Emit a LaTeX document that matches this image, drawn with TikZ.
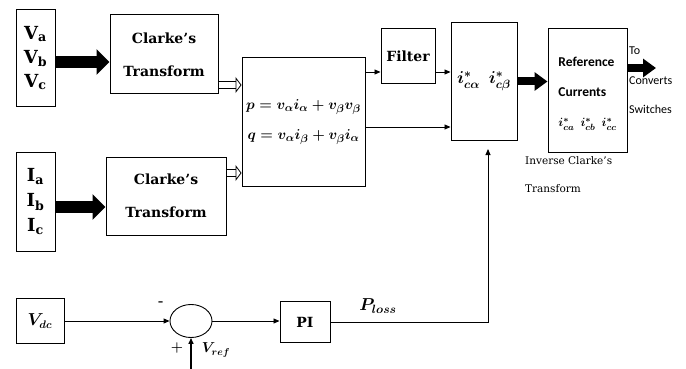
\documentclass[tikz,border=0pt]{standalone}
\usepackage{amsmath,bm}
\usepackage{fontspec}
\newfontfamily\blkfont{DejaVu Serif}
\newfontfamily\calfont{Carlito}
\usetikzlibrary{arrows.meta,positioning,shapes.geometric}

\begin{document}
\begin{tikzpicture}[x=1pt,y=-1pt,
    blk/.style={draw,line width=1pt,inner sep=0pt,align=center},
    clk/.style={font=\blkfont\bfseries\fontsize{14}{33}\selectfont},
    arr/.style={line width=0.9pt,-{Triangle[length=6pt,width=5pt]}},
    fat/.style={line width=12pt,-{Triangle[length=13pt,width=25pt]}},
    fatsm/.style={line width=8pt,-{Triangle[length=13pt,width=18pt]}},
    hollow/.style={double,double distance=6pt,line width=0.8pt,-{Triangle[open,length=6pt,width=16pt]}}]
        \useasboundingbox (0,0) rectangle (686,369);
        % inputs
        \node[blk,minimum width=39pt,minimum height=97pt,font=\blkfont\bfseries\fontsize{18}{24}\selectfont]
          (vin) at (35.5,58.5) {\raisebox{19pt}{\begin{tabular}{@{}c@{}}V\textsubscript{a}\\V\textsubscript{b}\\V\textsubscript{c}\end{tabular}}};
        \node[blk,minimum width=39pt,minimum height=99pt,font=\blkfont\bfseries\fontsize{18}{25}\selectfont]
          (iin) at (35.5,201.5) {\raisebox{16pt}{\begin{tabular}{@{}c@{}}I\textsubscript{a}\\I\textsubscript{b}\\I\textsubscript{c}\end{tabular}}};
        % clarke blocks
        \node[blk,clk,minimum width=108pt,minimum height=79pt] (ck1) at (164,54.5) {Clarke’s\\Transform};
        \node[blk,clk,minimum width=120pt,minimum height=78pt] (ck2) at (166,196) {Clarke’s\\Transform};
        % p q block
        \node[blk,minimum width=123pt,minimum height=128pt,font=\fontsize{15}{30}\selectfont\boldmath]
          (pq) at (303.5,122) {$\bm{p = v_\alpha i_\alpha + v_\beta v_\beta}$\\$\bm{q = v_\alpha i_\beta + v_\beta i_\alpha}$};
        \node[blk,clk,minimum width=54pt,minimum height=55pt] (filt) at (408,56.5) {Filter};
        \node[blk,minimum width=66pt,minimum height=117pt,font=\fontsize{18}{20}\selectfont\boldmath]
          (icab) at (484,81.5) {\raisebox{4pt}{$\bm{i^*_{c\alpha}\;\, i^*_{c\beta}}$}};
        % reference currents
        \node[blk,minimum width=79pt,minimum height=123pt,font=\calfont\bfseries\fontsize{13.5}{30}\selectfont]
          (refc) at (587.5,90.5) {\raisebox{23pt}{\begin{tabular}{@{}l@{}}Reference\\Currents\\{\fontsize{12.5}{13}\selectfont\boldmath$\bm{i^*_{ca}\;\, i^*_{cb}\;\, i^*_{cc}}$}\end{tabular}}};
        \node[anchor=north west,inner sep=0pt,align=left,font=\calfont\fontsize{12}{29.5}\selectfont]
          (tocs) at (629,47) {To\\Converts\\Switches};
        \node[anchor=north west,inner sep=0pt,align=left,font=\blkfont\fontsize{10.5}{28}\selectfont]
          (invc) at (525,156) {Inverse Clarke’s\\Transform};
        % dc loop
        \node[blk,minimum width=48pt,minimum height=45pt,font=\fontsize{16}{18}\selectfont\boldmath]
          (vdc) at (40,321) {$\bm{V_{dc}}$};
        \node[draw,ellipse,line width=0.9pt,minimum width=42pt,minimum height=33pt] (sum) at (191,321) {};
        \node[blk,clk,minimum width=50pt,minimum height=41pt] (pi) at (305,322) {PI};
        \node[font=\bfseries\fontsize{14}{15}\selectfont] (minus) at (161,304) {-};
        \node[font=\bfseries\fontsize{14}{15}\selectfont] (plus) at (177,348) {+};
        \node[font=\fontsize{14}{16}\selectfont\boldmath] (vref) at (216,350) {$\bm{V_{ref}}$};
        \node[font=\fontsize{18}{20}\selectfont\boldmath] (ploss) at (378,306) {$\bm{P_{loss}}$};
        % levels and free ends
        \coordinate (fv) at (0,62);
        \coordinate (fi) at (0,207);
        \coordinate (h1) at (0,85);
        \coordinate (h2) at (0,173);
        \coordinate (fy) at (0,72);
        \coordinate (qy) at (0,127);
        \coordinate (sw) at (656,68);
        \coordinate (ptip) at (488,149);
        \coordinate (vrefin) at (191,369);
        % connectors
        \draw[fat] (vin.east |- fv) -- (ck1.west |- fv);
        \draw[fat] (iin.east |- fi) -- (ck2.west |- fi);
        \draw[hollow] (ck1.east |- h1) -- (pq.west |- h1);
        \draw[hollow] (ck2.east |- h2) -- (pq.west |- h2);
        \draw[arr] (pq.east |- fy) -- (filt.west |- fy);
        \draw[arr] (filt.east |- fy) -- (icab.west |- fy);
        \draw[arr] (pq.east |- qy) -- (icab.west |- qy);
        \draw[fatsm] (icab.east) -- (icab.east -| refc.west);
        \draw[fatsm] (refc.east |- sw) -- (sw);
        \draw[arr] (vdc.east) -- (sum.west);
        \draw[arr] (sum.east) -- (pi.west |- sum);
        \draw[arr] (pi.east) -| (ptip);
        \draw[line width=1.4pt,-{Triangle[length=6pt,width=5pt]}] (vrefin) -- (sum.south);
      \end{tikzpicture}
\end{document}
